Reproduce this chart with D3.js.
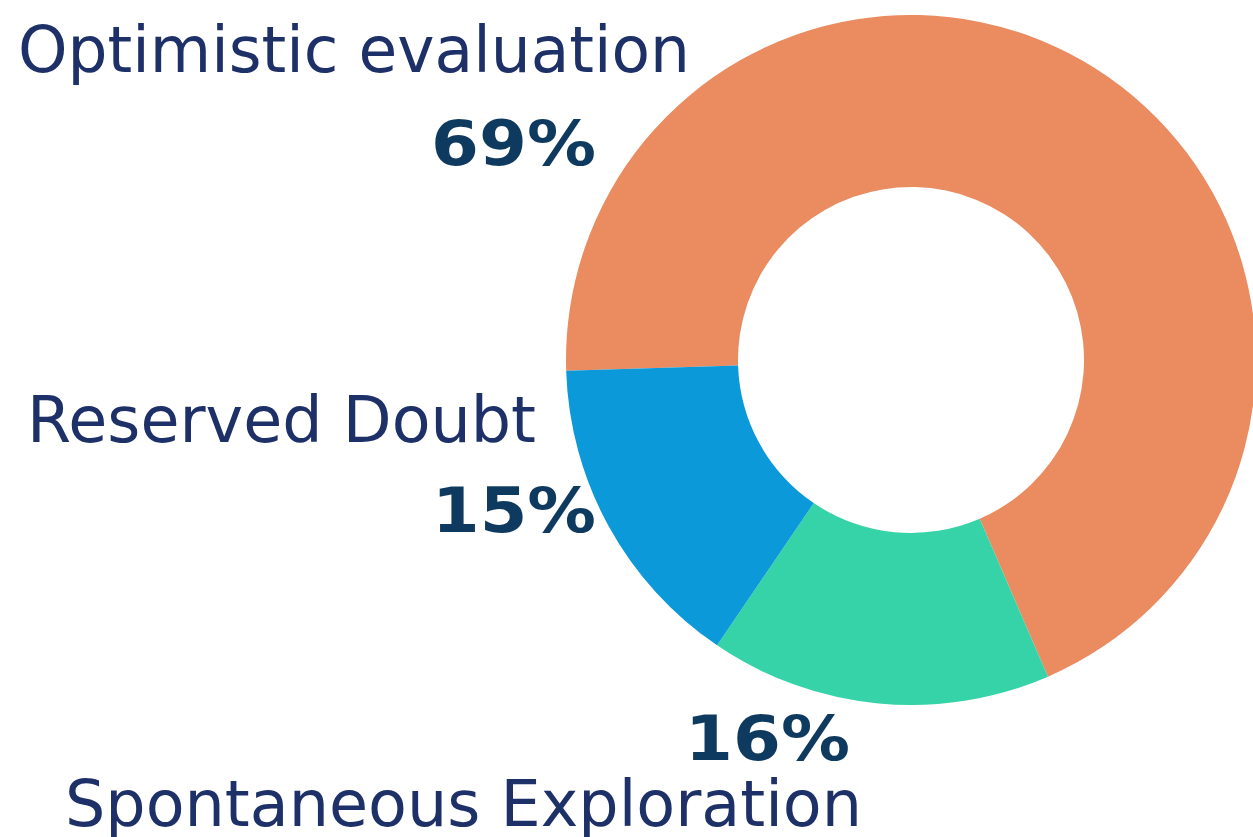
<!DOCTYPE html>
<meta charset="utf-8" />
<style>
  body {
    background: #fff;
    margin: 0px;
  }

  .label {
    font-family: "DejaVu Sans", Verdana, sans-serif;
    font-size: 64px;
    fill: #1e3068;
  }

  .pct {
    font-family: "DejaVu Sans", Verdana, sans-serif;
    font-size: 63px;
    font-weight: bold;
    fill: #0f3a5f;
  }
</style>
<div id="chart"></div>
<script src="https://d3js.org/d3.v7.min.js"></script>
<script>
  var width = 1253,
    height = 837;

  // data, in clockwise order from the left edge of the ring
  var categories = ["Optimistic evaluation", "Spontaneous Exploration", "Reserved Doubt"];
  var values = [69, 16, 15];
  var colors = ["#ea8b60", "#36d3a9", "#0b99d9"];

  // where each label sits: [x, y, width] for the name (left aligned)
  // and for the percentage (right aligned)
  var labelPos = [
    { name: [18, 72, 672], pct: [596, 165, 165] },
    { name: [65, 826, 797], pct: [850, 760, 165] },
    { name: [27, 442, 509], pct: [596, 532, 164] },
  ];

  var cx = 911,
    cy = 360,
    outerR = 345,
    innerR = 173;

  var svg = d3
    .select("#chart")
    .append("svg")
    .attr("width", width)
    .attr("height", height);

  var pie = d3
    .pie()
    .sort(null)
    .startAngle((-91.8 * Math.PI) / 180)
    .endAngle(((360 - 91.8) * Math.PI) / 180);

  var arc = d3.arc().innerRadius(innerR).outerRadius(outerR);

  var data = categories.map(function (c, i) {
    return { name: c, value: values[i], color: colors[i], pos: labelPos[i] };
  });

  var arcs = pie.value(function (d) {
    return d.value;
  })(data);

  svg
    .append("g")
    .attr("transform", "translate(" + cx + "," + cy + ")")
    .selectAll("path")
    .data(arcs)
    .enter()
    .append("path")
    .attr("d", arc)
    .attr("fill", function (d) {
      return d.data.color;
    });

  var fmt = d3.format(".0%");

  svg
    .selectAll("text.label")
    .data(data)
    .enter()
    .append("text")
    .attr("class", "label")
    .attr("x", function (d) {
      return d.pos.name[0];
    })
    .attr("y", function (d) {
      return d.pos.name[1];
    })
    .attr("textLength", function (d) {
      return d.pos.name[2];
    })
    .attr("lengthAdjust", "spacingAndGlyphs")
    .text(function (d) {
      return d.name;
    });

  svg
    .selectAll("text.pct")
    .data(data)
    .enter()
    .append("text")
    .attr("class", "pct")
    .attr("text-anchor", "end")
    .attr("x", function (d) {
      return d.pos.pct[0];
    })
    .attr("y", function (d) {
      return d.pos.pct[1];
    })
    .attr("textLength", function (d) {
      return d.pos.pct[2];
    })
    .attr("lengthAdjust", "spacingAndGlyphs")
    .text(function (d) {
      return fmt(d.value / 100);
    });
</script>
